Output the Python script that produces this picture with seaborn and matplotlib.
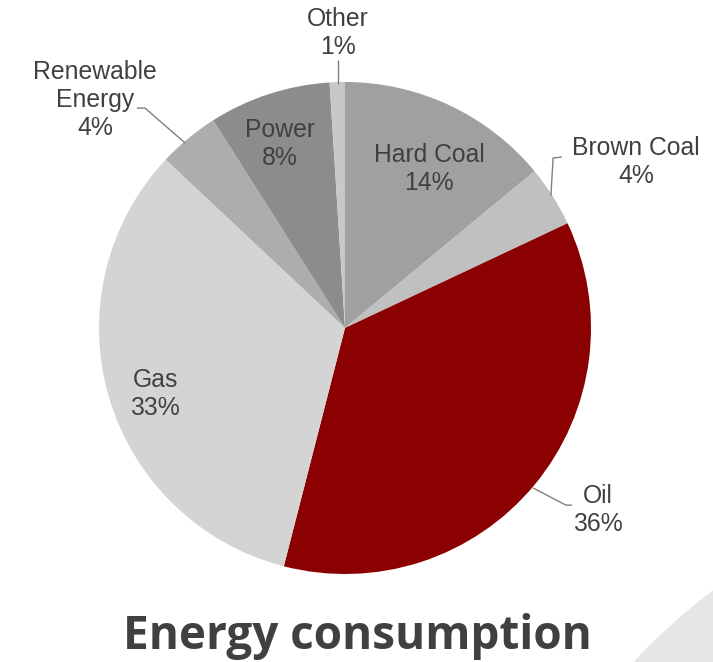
import matplotlib
matplotlib.use("Agg")
import matplotlib.pyplot as plt
from matplotlib.patches import Circle
import seaborn as sns

# data
categorias = ["Hard Coal", "Brown Coal", "Oil", "Gas", "Renewable\nEnergy", "Power", "Other"]
porcentajes = [14, 4, 36, 33, 4, 8, 1]
colores = ["#a0a0a0", "#c0c0c0", "#8b0000", "#d4d4d4", "#adadad", "#8c8c8c", "#c8c8c8"]
titulo = "Energy consumption"

# layout: label anchors (pie units, radius 1) and leader lines
pos_etiquetas = {
    "Hard Coal": (0.341, 0.646),
    "Brown Coal": (1.183, 0.675),
    "Oil": (1.028, -0.740),
    "Gas": (-0.772, -0.268),
    "Renewable\nEnergy": (-1.016, 0.927),
    "Power": (-0.264, 0.748),
    "Other": (-0.028, 1.199),
}
lineas_guia = {
    "Brown Coal": [(0.837, 0.537), (0.846, 0.691), (0.882, 0.695)],
    "Oil": [(0.764, -0.650), (0.898, -0.720), (0.923, -0.720)],
    "Renewable\nEnergy": [(-0.650, 0.752), (-0.813, 0.894), (-0.846, 0.894)],
    "Other": [(-0.028, 0.992), (-0.028, 1.089)],
}

sns.set_theme(style="white")
plt.rcParams["font.family"] = ["Liberation Sans", "DejaVu Sans"]
color_texto = "#404040"

fig = plt.figure(figsize=(7.13, 6.62), dpi=100)
ax = fig.add_axes([0, 0, 1, 1])
ax.set_facecolor("white")

ax.pie(porcentajes, colors=colores, startangle=90, counterclock=False,
       radius=1, wedgeprops=dict(linewidth=0))

for cat, pct in zip(categorias, porcentajes):
    x, y = pos_etiquetas[cat]
    ax.text(x, y, f"{cat}\n{pct}%", ha="center", va="center", fontsize=17.8,
            color=color_texto, linespacing=1.22)

for cat, pts in lineas_guia.items():
    xs = [p[0] for p in pts]
    ys = [p[1] for p in pts]
    ax.plot(xs, ys, color="#808080", lw=1, solid_capstyle="butt")

# decorative shape bottom right
ax.add_patch(Circle((11.0, -4.38), 6.4, transform=fig.dpi_scale_trans,
                    facecolor="#e6e6e6", edgecolor="none", zorder=0))

r_px = 246
ax.set_xlim(-345 / r_px, 368 / r_px)
ax.set_ylim(-334 / r_px, 328 / r_px)
ax.set_aspect("auto")
ax.axis("off")

fig.text(357 / 713, 1 - 649 / 662, titulo, ha="center", va="baseline",
         fontsize=33, fontweight="bold", family="Open Sans", color=color_texto)

fig.savefig("out.png", dpi=100)
